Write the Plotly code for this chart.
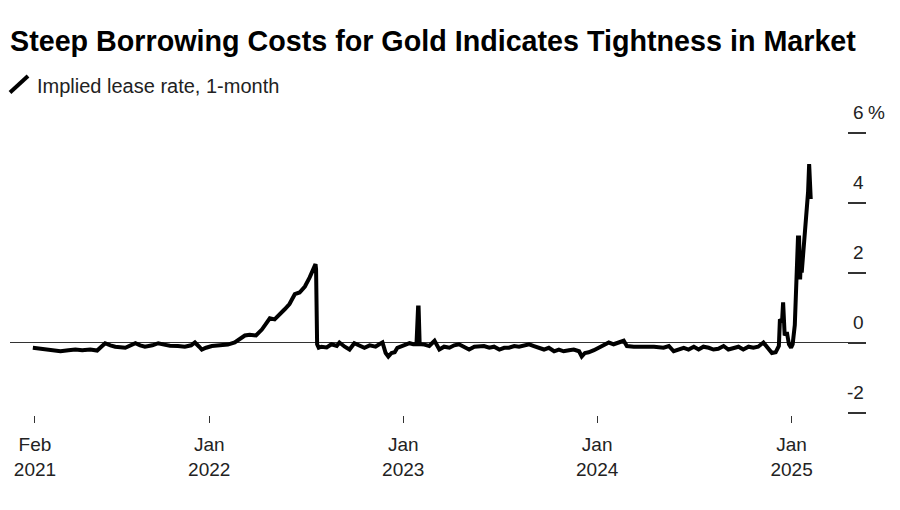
import plotly.graph_objects as go

title_text = "Steep Borrowing Costs for Gold Indicates Tightness in Market"
series_name = "Implied lease rate, 1-month"

dates = [
    "2021-02-03", "2021-02-17", "2021-03-08", "2021-03-27", "2021-04-11", "2021-04-24",
    "2021-05-07", "2021-05-22", "2021-06-04", "2021-06-19", "2021-06-29", "2021-07-08",
    "2021-07-27", "2021-08-15", "2021-08-24", "2021-09-02", "2021-09-16", "2021-09-27",
    "2021-10-08", "2021-10-19", "2021-11-03", "2021-11-16", "2021-11-28", "2021-12-05",
    "2021-12-13", "2021-12-18", "2021-12-26", "2022-01-06", "2022-01-21", "2022-02-05",
    "2022-02-18", "2022-02-28", "2022-03-09", "2022-03-18", "2022-03-30", "2022-04-10",
    "2022-04-17", "2022-04-25", "2022-05-04", "2022-05-14", "2022-05-23", "2022-06-01",
    "2022-06-11", "2022-06-20", "2022-06-30", "2022-07-09", "2022-07-16", "2022-07-20",
    "2022-07-21", "2022-07-23", "2022-07-26", "2022-07-31", "2022-08-10", "2022-08-19",
    "2022-08-29", "2022-09-03", "2022-09-13", "2022-09-22", "2022-10-01", "2022-10-11",
    "2022-10-20", "2022-10-30", "2022-11-10", "2022-11-17", "2022-11-23", "2022-11-29",
    "2022-12-04", "2022-12-10", "2022-12-16", "2022-12-21", "2022-12-29", "2023-01-05",
    "2023-01-13", "2023-01-20", "2023-01-26", "2023-01-29", "2023-01-30", "2023-02-01",
    "2023-02-10", "2023-02-19", "2023-03-01", "2023-03-10", "2023-03-19", "2023-03-29",
    "2023-04-07", "2023-04-16", "2023-04-26", "2023-05-05", "2023-05-15", "2023-05-24",
    "2023-06-02", "2023-06-12", "2023-06-21", "2023-07-01", "2023-07-10", "2023-07-19",
    "2023-07-29", "2023-08-07", "2023-08-16", "2023-08-26", "2023-09-04", "2023-09-14",
    "2023-09-23", "2023-10-02", "2023-10-12", "2023-10-21", "2023-10-30", "2023-11-09",
    "2023-11-18", "2023-11-28", "2023-12-03", "2023-12-09", "2023-12-16", "2023-12-26",
    "2024-01-04", "2024-01-13", "2024-01-23", "2024-02-01", "2024-02-11", "2024-02-20",
    "2024-02-26", "2024-03-10", "2024-03-29", "2024-04-17", "2024-05-05", "2024-05-15",
    "2024-05-24", "2024-06-03", "2024-06-12", "2024-06-21", "2024-07-01", "2024-07-10",
    "2024-07-19", "2024-07-29", "2024-08-07", "2024-08-16", "2024-08-26", "2024-09-04",
    "2024-09-13", "2024-09-23", "2024-10-02", "2024-10-12", "2024-10-21", "2024-10-30",
    "2024-11-09", "2024-11-14", "2024-11-25", "2024-12-02", "2024-12-08", "2024-12-10",
    "2024-12-14", "2024-12-16", "2024-12-18", "2024-12-19", "2024-12-23", "2024-12-27",
    "2024-12-31", "2025-01-03", "2025-01-07", "2025-01-09", "2025-01-11", "2025-01-13",
    "2025-01-15", "2025-01-17", "2025-01-18", "2025-01-20", "2025-01-24", "2025-01-28",
    "2025-01-30", "2025-02-01", "2025-02-03", "2025-02-04", "2025-02-05", "2025-02-06",
]

values = [
    -0.15, -0.18, -0.20, -0.25, -0.22, -0.20,
    -0.22, -0.20, -0.23, -0.02, -0.08, -0.12,
    -0.15, -0.02, -0.08, -0.12, -0.08, -0.02,
    -0.06, -0.09, -0.10, -0.12, -0.08, 0.00,
    -0.12, -0.20, -0.15, -0.10, -0.08, -0.06,
    0.00, 0.12, 0.20, 0.22, 0.20, 0.37,
    0.50, 0.69, 0.66, 0.80, 0.95, 1.10,
    1.38, 1.43, 1.60, 1.86, 2.15, 2.24,
    2.10, -0.05, -0.15, -0.12, -0.14, -0.05,
    -0.10, 0.00, -0.12, -0.20, -0.02, -0.10,
    -0.15, -0.08, -0.12, -0.05, 0.00, -0.30,
    -0.40, -0.30, -0.28, -0.15, -0.10, -0.08,
    -0.02, -0.05, -0.05, 1.00, 1.00, -0.05,
    -0.06, -0.10, 0.05, -0.20, -0.12, -0.15,
    -0.08, -0.05, -0.12, -0.20, -0.12, -0.12,
    -0.10, -0.15, -0.12, -0.20, -0.15, -0.15,
    -0.10, -0.12, -0.08, -0.05, -0.10, -0.15,
    -0.20, -0.15, -0.25, -0.20, -0.25, -0.22,
    -0.20, -0.25, -0.40, -0.30, -0.28, -0.22,
    -0.15, -0.10, 0.00, -0.05, 0.00, 0.05,
    -0.10, -0.12, -0.12, -0.12, -0.15, -0.10,
    -0.25, -0.20, -0.15, -0.20, -0.12, -0.20,
    -0.12, -0.15, -0.20, -0.18, -0.10, -0.20,
    -0.15, -0.12, -0.20, -0.12, -0.15, -0.12,
    0.00, -0.10, -0.30, -0.28, -0.10, 0.66,
    0.60, 1.15, 0.60, 0.20, 0.30, -0.05,
    -0.15, -0.05, 0.50, 1.20, 2.50, 3.00,
    3.00, 1.80, 2.20, 2.00, 2.80, 3.70,
    3.80, 4.30, 5.10, 4.80, 4.10, 4.10,
]

x_tick_vals = ["2021-02-07", "2022-01-01", "2023-01-01", "2024-01-01", "2025-01-01"]
x_tick_text = ["Feb<br>2021", "Jan<br>2022", "Jan<br>2023", "Jan<br>2024", "Jan<br>2025"]
y_tick_vals = [-2, 0, 2, 4, 6]
y_tick_text = ["-2", "0", "2", "4", "6"]
y_unit = "%"

FONT = "Liberation Sans, Arial, Helvetica, sans-serif"
TXT = "#222222"

fig = go.Figure()
fig.add_trace(go.Scatter(
    x=dates, y=values, mode="lines", name=series_name,
    line=dict(color="#000000", width=4), showlegend=False,
))

annotations = []
for v, t in zip(y_tick_vals, y_tick_text):
    annotations.append(dict(
        x=1, xref="paper", xanchor="right", y=v, yref="y", yanchor="bottom",
        yshift=8, text=t, showarrow=False, font=dict(family=FONT, size=19, color=TXT),
    ))
annotations.append(dict(
    x=1, xref="paper", xanchor="left", y=y_tick_vals[-1], yref="y", yanchor="bottom",
    yshift=8, text=y_unit, showarrow=False, font=dict(family=FONT, size=19, color=TXT),
))
annotations.append(dict(
    x=0, xref="paper", xanchor="left", xshift=25, y=1, yref="paper", yanchor="bottom",
    yshift=6, text=series_name, showarrow=False, font=dict(family=FONT, size=20, color=TXT),
))

fig.update_layout(
    width=900, height=510, autosize=False,
    margin=dict(l=10, r=34, t=105, b=95, pad=0),
    paper_bgcolor="white", plot_bgcolor="white",
    title=dict(
        text=title_text, x=10 / 900, xref="container", xanchor="left",
        y=1 - 41 / 510, yref="container", yanchor="middle",
        font=dict(family=FONT, size=28.7, color="#000000", weight=700),
    ),
    xaxis=dict(
        range=["2020-12-22", "2025-05-21"], tickmode="array",
        tickvals=x_tick_vals, ticktext=x_tick_text,
        ticks="outside", ticklen=7, tickwidth=1, tickcolor="#333333",
        ticklabelstandoff=5,
        showgrid=False, showline=False, zeroline=False,
        tickfont=dict(family=FONT, size=19, color=TXT),
    ),
    yaxis=dict(
        range=[-2.071, 6.786], side="right", tickmode="array", tickvals=y_tick_vals,
        ticks="inside", ticklen=18, tickwidth=1.5, tickcolor="#333333",
        showticklabels=False, showgrid=False, showline=False,
        zeroline=True, zerolinecolor="#333333", zerolinewidth=1,
    ),
    annotations=annotations,
    shapes=[dict(
        type="line", xref="paper", xsizemode="pixel", xanchor=0, x0=0, x1=18,
        yref="paper", ysizemode="pixel", yanchor=1, y0=12.5, y1=29,
        line=dict(color="#000000", width=4),
    )],
)

fig.write_html("out.html")
